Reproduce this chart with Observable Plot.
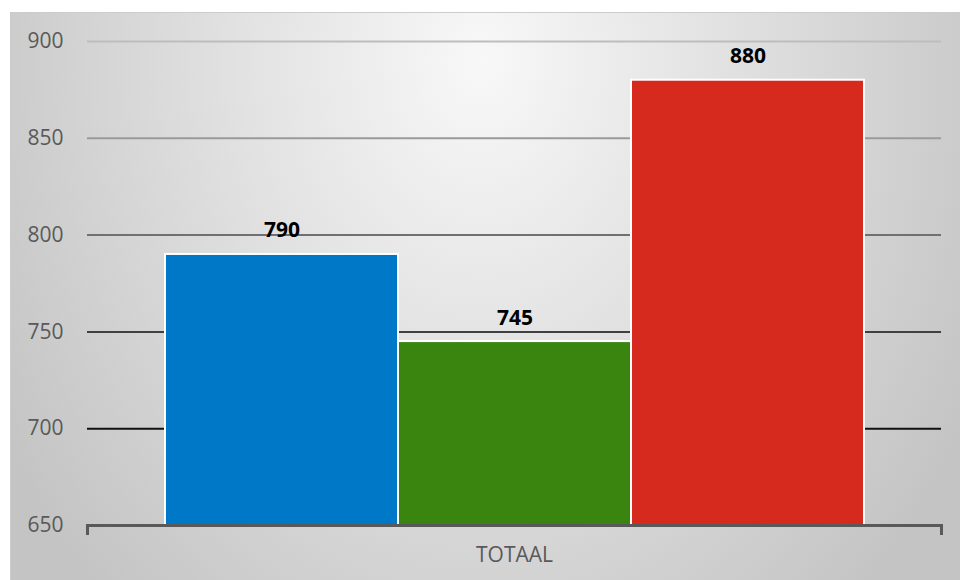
<!DOCTYPE html>
<html>
<head>
<meta charset="utf-8">
<script src="https://cdn.jsdelivr.net/npm/d3@7"></script>
<script src="https://cdn.jsdelivr.net/npm/@observablehq/plot@0.6"></script>
<style>
  html, body { margin: 0; padding: 0; background: #ffffff; }
  #chart svg { display: block; font-family: "Open Sans", "Noto Sans", sans-serif; }
</style>
</head>
<body>
<div id="chart"></div>
<script>
const categories = ["TOTAAL"];
const series = ["Reeks 1", "Reeks 2", "Reeks 3"];
const values = [790, 745, 880];
const colors = ["#0078C8", "#3A8510", "#D62A1E"];
const yTicks = [650, 700, 750, 800, 850, 900];

const table = series.map((s, i) => ({category: categories[0], series: s, value: values[i]}));
const yMin = yTicks[0];
const yMax = yTicks[yTicks.length - 1];
const gridColor = d3.scaleLinear().domain([700, 750, 800, 850, 900]).range(["#111111", "#404040", "#707070", "#9a9a9a", "#bdbdbd"]);

const W = 960, H = 580, mL = 87, mR = 19, mT = 41, mB = 55;
const plotH = H - mT - mB;

const chart = Plot.plot({
  width: W,
  height: H,
  marginLeft: mL,
  marginRight: mR,
  marginTop: mT,
  marginBottom: mB,
  style: {fontFamily: "'Open Sans', 'Noto Sans', sans-serif", background: "transparent", overflow: "visible"},
  fx: {domain: categories, padding: 0, label: null, axis: null},
  x: {domain: series, paddingInner: 0, paddingOuter: 0.325, axis: null},
  y: {domain: [yMin, yMax], axis: null},
  color: {domain: series, range: colors},
  marks: [
    Plot.frame({fill: "url(#bgGrad)", stroke: "#cccccc", insetLeft: -(mL - 10), insetTop: -(mT - 12), insetRight: -(mR + 10), insetBottom: -(mB + 10)}),
    Plot.ruleY(yTicks.filter(d => d > yMin), {stroke: d => gridColor(d), strokeWidth: 2}),
    Plot.barY(table, {fx: "category", x: "series", y1: () => yMin, y2: "value", fill: "series", stroke: "white", strokeWidth: 2}),
    Plot.text(table, {fx: "category", x: "series", y: "value", text: d => String(d.value), lineAnchor: "bottom", dy: -17, fontSize: 21, fontWeight: "bold", fill: "#000000"}),
    Plot.ruleY([yMin], {stroke: "#595959", strokeWidth: 3}),
    Plot.frame({anchor: "left", stroke: "#595959", strokeWidth: 3, insetTop: plotH, insetBottom: -8}),
    Plot.frame({anchor: "right", stroke: "#595959", strokeWidth: 3, insetTop: plotH, insetBottom: -8}),
    Plot.axisY({ticks: yTicks, tickSize: 0, tickPadding: 24, fontSize: 21, color: "#595959", label: null, anchor: "left"}),
    Plot.axisFx({anchor: "bottom", tickSize: 0, tickPadding: 22, fontSize: 21, color: "#595959", label: null})
  ]
});

const svg = d3.select(chart);
const defs = svg.insert("defs", ":first-child");
const grad = defs.append("radialGradient")
  .attr("id", "bgGrad")
  .attr("gradientUnits", "userSpaceOnUse")
  .attr("cx", 480).attr("cy", 60).attr("r", 560)
  .attr("gradientTransform", "translate(480,60) scale(1,1.3) translate(-480,-60)");
grad.append("stop").attr("offset", "0%").attr("stop-color", "#f8f8f8");
grad.append("stop").attr("offset", "100%").attr("stop-color", "#c4c4c4");

document.getElementById("chart").appendChild(chart);
</script>
</body>
</html>
